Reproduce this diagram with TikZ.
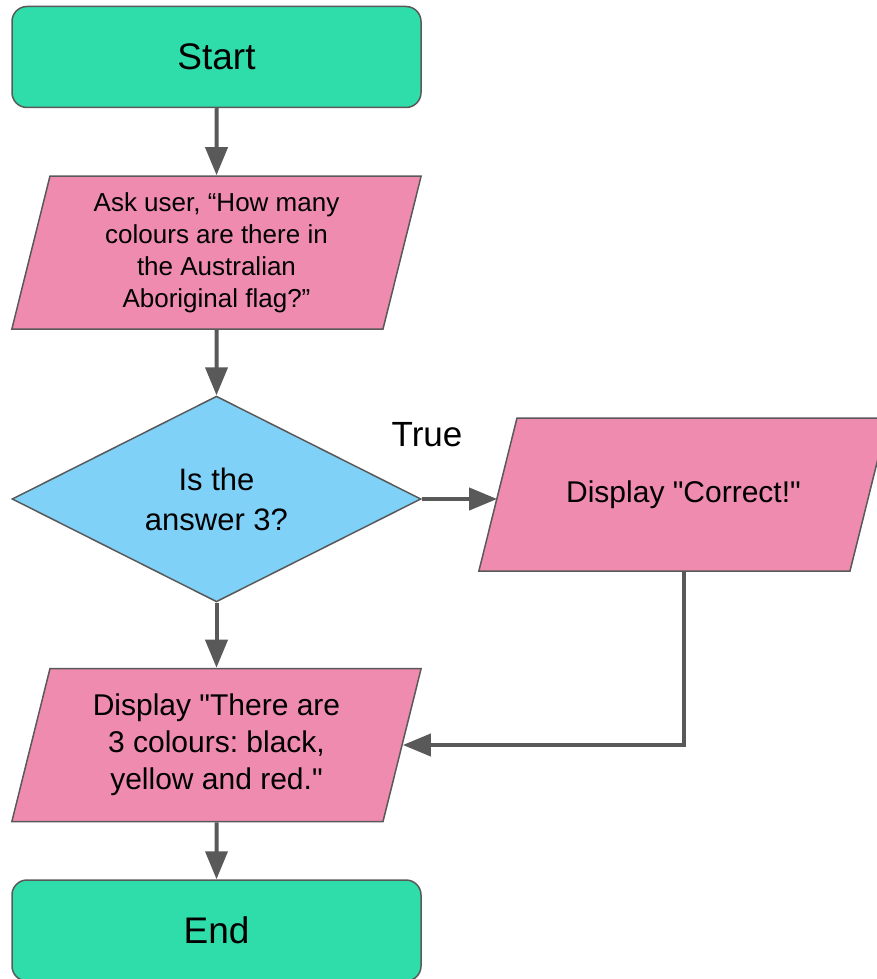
\documentclass[tikz,border=0pt]{standalone}
\usepackage{fontspec}
\newfontfamily\flowfont{Liberation Sans}
\usetikzlibrary{shapes.geometric,arrows.meta}
\definecolor{termgreen}{HTML}{2FDDAB}
\definecolor{iopink}{HTML}{EF8BAE}
\definecolor{askblue}{HTML}{80D1F8}
\definecolor{edgegray}{HTML}{595959}
\newcommand{\iobox}[1]{\parbox[c][153pt][c]{333pt}{\centering #1}}
\frenchspacing

\begin{document}
\begin{tikzpicture}[x=1pt,y=-1pt,
    terminal/.style={draw=edgegray, line width=1.5pt, fill=termgreen, rounded corners=15pt,
      minimum width=409pt, minimum height=101pt, inner sep=0pt, font=\flowfont\fontsize{37}{44}\selectfont},
    io/.style={trapezium, trapezium left angle=76, trapezium right angle=104,
      draw=edgegray, line width=1.5pt, fill=iopink, inner sep=0pt},
    decision/.style={diamond, draw=edgegray, line width=1.5pt, fill=askblue, minimum width=409pt,
      minimum height=204pt, inner sep=0pt, align=center, font=\flowfont\fontsize{31}{40}\selectfont},
    flow/.style={edgegray, line width=4pt, -{Triangle[length=28pt,width=22pt]}}]
  \useasboundingbox (0,0) rectangle (876,979);

  \node[terminal] (start) at (216.5,57) {Start};
  \node[io, font=\flowfont\fontsize{26}{32}\selectfont] (ask) at (216.5,252.5)
    {\iobox{Ask user, “How many\\colours are there in\\the Australian\\Aboriginal flag?”}};
  \node[decision] (check) at (216.5,499) {Is the\\answer 3?};
  \node[io, font=\flowfont\fontsize{30}{37}\selectfont] (correct) at (683.5,494.5) {\iobox{Display "Correct!"}};
  \node[io, font=\flowfont\fontsize{30}{37}\selectfont] (tell) at (216.5,745)
    {\iobox{Display "There are\\3 colours: black,\\yellow and red."}};
  \node[terminal] (stop) at (216.5,930.5) {End};
  \node[font=\flowfont\fontsize{35}{42}\selectfont] (truelabel) at (427,435) {True};

  \draw[flow] (start) -- (ask);
  \draw[flow] (ask) -- (check);
  \draw[flow] (check.east) -- (check.east -| correct.west); % true branch
  \draw[flow] (check) -- (tell);
  \draw[flow] (correct.south) |- (tell.east);
  \draw[flow] (tell) -- (stop);

\end{tikzpicture}
\end{document}
